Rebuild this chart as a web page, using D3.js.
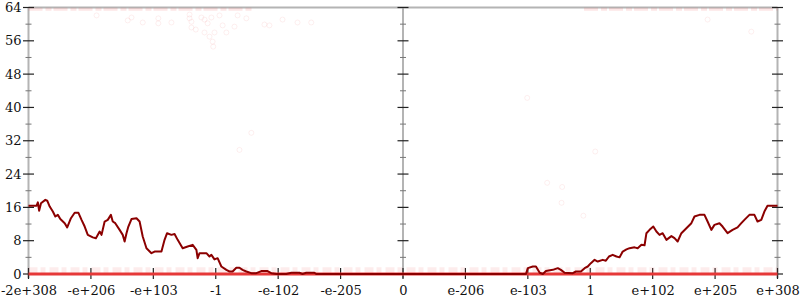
<!DOCTYPE html>
<html>
<head>
<meta charset="utf-8">
<script src="https://cdn.jsdelivr.net/npm/d3@7"></script>
<style>
  body { margin: 0; background: #fff; }
  svg { display: block; font-family: "DejaVu Serif", serif; }
</style>
</head>
<body>
<svg id="chart" width="800" height="300"></svg>
<script>
// x runs over 12 equal steps of the float bit pattern, one step per tick label
const xTickLabels = ["-2e+308", "-e+206", "-e+103", "-1", "-e-102", "-e-205", "0",
                     "e-206", "e-103", "1", "e+102", "e+205", "e+308"];
const yTicks = [0, 8, 16, 24, 32, 40, 48, 56, 64];

// running value (dark red line), x in tick steps
const lineX = [0, 0.13, 0.15, 0.17, 0.20, 0.27, 0.30, 0.34, 0.39, 0.43, 0.47, 0.51, 0.58, 0.62,
  0.68, 0.74, 0.80, 0.85, 0.90, 0.95, 1.03, 1.08, 1.14, 1.17, 1.22, 1.27, 1.32, 1.35, 1.39,
  1.46, 1.51, 1.54, 1.57, 1.60, 1.65, 1.73, 1.78, 1.83, 1.89, 1.97, 2.02, 2.13, 2.18, 2.22,
  2.29, 2.34, 2.39, 2.47, 2.55, 2.63, 2.69, 2.71, 2.74, 2.85, 2.90, 2.93, 2.98, 3.03, 3.09,
  3.17, 3.22, 3.27, 3.33, 3.38, 3.43, 3.49, 3.57, 3.65, 3.73, 3.83, 3.89, 3.97, 4.13, 4.21,
  4.34, 4.39, 4.45, 4.58, 4.61, 7.97, 8.00, 8.08, 8.13, 8.19, 8.24, 8.29, 8.40, 8.48, 8.53,
  8.59, 8.72, 8.77, 8.85, 8.91, 8.96, 9.01, 9.07, 9.12, 9.20, 9.25, 9.30, 9.36, 9.42, 9.47,
  9.52, 9.58, 9.63, 9.71, 9.76, 9.82, 9.87, 9.90, 9.95, 10.01, 10.06, 10.11, 10.16, 10.22,
  10.30, 10.35, 10.40, 10.46, 10.54, 10.62, 10.67, 10.75, 10.83, 10.88, 10.94, 10.99, 11.07,
  11.12, 11.20, 11.28, 11.36, 11.42, 11.47, 11.55, 11.63, 11.68, 11.74, 11.79, 11.84, 12];
const lineY = [16.4, 16.4, 17.2, 15.2, 17.0, 17.8, 17.6, 16.2, 15.0, 13.8, 14.2, 13.2, 12.2, 11.2,
  13.4, 14.7, 14.7, 13.0, 11.4, 9.4, 8.8, 8.6, 10.2, 9.4, 12.6, 13.0, 14.2, 12.6, 12.2,
  10.6, 9.4, 7.8, 9.8, 11.4, 13.2, 13.4, 12.6, 9.0, 6.2, 5.0, 5.4, 5.4, 8.2, 9.8,
  9.4, 9.6, 8.2, 6.2, 6.6, 7.0, 5.8, 3.8, 5.0, 5.0, 4.2, 4.6, 3.5, 3.8, 1.8,
  1.0, 0.6, 0.6, 1.5, 1.5, 1.0, 0.6, 0.2, 0.2, 0.7, 0.7, 0.2, 0.0, 0.0, 0.3,
  0.3, 0.0, 0.3, 0.3, 0.0, 0.0, 1.4, 1.8, 1.8, 0.3, 0.0, 0.7, 1.0, 1.4, 1.0,
  0.3, 0.2, 0.6, 0.6, 1.4, 1.8, 2.6, 3.4, 3.0, 3.4, 3.2, 4.2, 4.6, 4.2, 4.0,
  5.4, 5.9, 6.2, 6.4, 6.2, 7.0, 6.9, 9.8, 10.6, 11.4, 10.2, 9.4, 9.8, 8.2,
  9.1, 8.6, 7.8, 9.8, 11.0, 12.2, 13.8, 14.2, 14.2, 12.6, 10.6, 11.8, 12.2,
  11.4, 9.8, 10.6, 11.2, 12.2, 13.0, 14.2, 14.2, 12.6, 13.0, 15.0, 16.4, 16.4];

// faint single samples
const dotX = [1.09, 1.59, 1.65, 1.83, 2.08, 2.08, 2.29, 2.58, 2.58, 2.61, 2.61, 2.68, 2.77, 2.82,
  2.87, 2.93, 2.98, 2.82, 2.90, 2.95, 2.96, 3.06, 3.11, 3.17, 3.30, 3.35, 3.49, 3.78, 3.86,
  4.07, 4.31, 4.53, 10.88, 11.58, 8.31, 8.55, 8.54, 8.89, 3.38, 3.57, 7.99, 9.08];
const dotY = [62.1, 60.9, 61.6, 60.4, 61.4, 60.2, 60.4, 62.3, 61.4, 60.6, 59.2, 58.7, 61.6, 61.1,
  60.2, 61.6, 58.0, 58.0, 57.0, 55.8, 54.6, 62.1, 59.7, 58.0, 59.4, 62.1, 61.4, 59.9, 59.7,
  61.1, 60.4, 60.4, 61.1, 58.2, 21.9, 20.9, 17.1, 14.0, 29.8, 33.9, 42.3, 29.4];

// dense sample bands (x extents) at the top and bottom
const topBandStart = [0, 8.9];
const topBandEnd = [3.6, 12];
const topBandValue = 63.6;
const lowHazeValue = 0.9;

const svg = d3.select("#chart");
const x = d3.scaleLinear().domain([0, 12]).range([28.5, 777.5]);
const y = d3.scaleLinear().domain([0, 64]).range([274, 7.5]);

const minorTicks = d3.range(4, 64, 8);
const axisXs = [0, 6, 12];

// gray frame lines
svg.append("g").selectAll("line")
  .data(axisXs)
  .join("line")
  .attr("x1", d => x(d)).attr("x2", d => x(d))
  .attr("y1", y(64)).attr("y2", y(0) + 4)
  .attr("stroke", "#b4b4b4").attr("stroke-width", 2);

svg.append("line")
  .attr("x1", x(0)).attr("x2", x(12))
  .attr("y1", y(64)).attr("y2", y(64))
  .attr("stroke", "#b4b4b4").attr("stroke-width", 2);

// y ticks on the three vertical axes
const tickG = svg.append("g");
axisXs.forEach(a => {
  tickG.append("g").selectAll("line.minor")
    .data(minorTicks)
    .join("line")
    .attr("class", "minor")
    .attr("x1", x(a) - 3).attr("x2", x(a) + 3)
    .attr("y1", d => y(d)).attr("y2", d => y(d))
    .attr("stroke", "#777").attr("stroke-width", 1);
  tickG.append("g").selectAll("line.major")
    .data(yTicks)
    .join("line")
    .attr("class", "major")
    .attr("x1", x(a) - 5.5).attr("x2", x(a) + 5.5)
    .attr("y1", d => y(d)).attr("y2", d => y(d))
    .attr("stroke", "#222").attr("stroke-width", 1.2);
});

// y labels (left only)
svg.append("g")
  .attr("transform", `translate(${x(0)},0)`)
  .call(d3.axisLeft(y).tickValues(yTicks).tickSize(0).tickPadding(7))
  .call(g => g.select(".domain").remove())
  .selectAll("text")
  .attr("font-family", "DejaVu Serif").attr("font-size", 13).attr("fill", "#111");

// x ticks + labels
svg.append("g").selectAll("line")
  .data(d3.range(xTickLabels.length))
  .join("line")
  .attr("x1", d => x(d)).attr("x2", d => x(d))
  .attr("y1", y(0) - 6).attr("y2", y(0) + 5)
  .attr("stroke", "#222").attr("stroke-width", 1.2);

svg.append("g")
  .attr("transform", `translate(0,${y(0)})`)
  .call(d3.axisBottom(x).tickValues(d3.range(xTickLabels.length))
    .tickFormat(i => xTickLabels[i]).tickSize(0).tickPadding(12))
  .call(g => g.select(".domain").remove())
  .selectAll("text")
  .attr("font-family", "DejaVu Serif").attr("font-size", 13).attr("fill", "#111");

// sample haze bands
const bands = svg.append("g");
bands.selectAll("line.top")
  .data(d3.range(topBandStart.length))
  .join("line")
  .attr("class", "top")
  .attr("x1", i => x(topBandStart[i])).attr("x2", i => x(topBandEnd[i]))
  .attr("y1", y(topBandValue)).attr("y2", y(topBandValue))
  .attr("stroke", "#f05050").attr("stroke-opacity", 0.14).attr("stroke-width", 3)
  .attr("stroke-dasharray", "14 3 6 2");

bands.append("line")
  .attr("x1", x(0)).attr("x2", x(12))
  .attr("y1", y(lowHazeValue)).attr("y2", y(lowHazeValue))
  .attr("stroke", "#f06060").attr("stroke-opacity", 0.12).attr("stroke-width", 6)
  .attr("stroke-dasharray", "9 3 5 4");

bands.append("line")
  .attr("x1", x(0)).attr("x2", x(12))
  .attr("y1", y(0)).attr("y2", y(0))
  .attr("stroke", "#e63838").attr("stroke-width", 3);

// faint scattered samples
svg.append("g").selectAll("circle")
  .data(d3.range(dotX.length))
  .join("circle")
  .attr("cx", i => x(dotX[i])).attr("cy", i => y(dotY[i]))
  .attr("r", 2.5)
  .attr("fill", "none")
  .attr("stroke", "#f06060").attr("stroke-opacity", 0.1).attr("stroke-width", 1);

// running line
const line = d3.line()
  .x(i => x(lineX[i]))
  .y(i => y(lineY[i]));

svg.append("path")
  .datum(d3.range(lineX.length))
  .attr("d", line)
  .attr("fill", "none")
  .attr("stroke", "#8b0000")
  .attr("stroke-width", 2)
  .attr("stroke-linejoin", "round");
</script>
</body>
</html>
